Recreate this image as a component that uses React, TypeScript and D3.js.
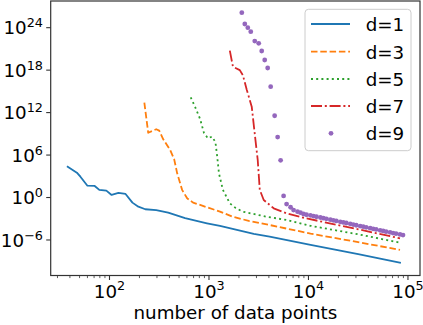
import React from "react";
import * as d3 from "d3";

const X_D1 = [38, 47, 51, 60, 71, 79, 93, 105, 123, 145, 170, 195, 229, 295, 389, 575, 955, 1290, 2820, 4070, 10500, 31600, 83200];
const Y_D1 = [2.3e4, 3.2e3, 8.7e2, 47, 43, 12, 9.3, 2.3, 4.4, 3.2, 0.19, 0.051, 0.022, 0.017, 7.2e-3, 1.2e-3, 2.3e-4, 9.5e-5, 7.1e-6, 3.0e-6, 2.0e-7, 1.0e-8, 6.3e-10];

const X_D3 = [224, 245, 295, 316, 347, 407, 447, 479, 537, 603, 692, 955, 1290, 1740, 2510, 4070, 10500, 31600, 83200];
const Y_D3 = [2.5e13, 1.4e9, 4.4e9, 2.8e9, 1.7e8, 5.2e6, 2.5e5, 2.6e3, 12, 0.78, 0.19, 0.042, 0.01, 1.9e-3, 5.0e-4, 1.3e-4, 7.9e-6, 5.0e-7, 3.9e-8];

const X_D5 = [655, 723, 813, 891, 977, 1070, 1160, 1210, 1260, 1380, 1620, 1860, 2190, 3800, 6030, 10500, 31600, 83200];
const Y_D5 = [1.4e14, 6.9e12, 1.3e11, 1.3e9, 2.3e8, 4.0e8, 7.1e7, 5.9e5, 2.6e3, 12, 0.15, 0.032, 0.01, 1.9e-3, 6.8e-4, 1.0e-4, 6.3e-6, 4.2e-7];

const X_D7 = [1620, 1740, 2040, 2190, 2400, 2690, 2880, 3090, 3240, 3550, 4470, 6030, 9550, 31600, 83200];
const Y_D7 = [5.6e20, 3.1e18, 1.0e18, 2.0e17, 1.6e15, 6.9e12, 1.2e9, 2.0e5, 12, 0.45, 0.03, 5.9e-3, 1.1e-3, 3.2e-5, 1.7e-6];

const X_D9 = [2138, 2291, 2455, 2630, 2884, 3162, 3388, 3631, 3890, 4169, 4571, 4898, 5248, 5623, 6026, 6607, 7079, 7762, 8318, 8913, 9550, 10470, 11220, 12020, 13180, 14130, 15140, 16600, 17780, 19050, 20890, 22390, 23990, 26300, 28180, 30200, 33110, 35480, 38020, 41690, 44670, 47860, 52480, 56230, 60260, 66070, 70790, 75860, 83180, 89130];
const Y_D9 = [1.3e26, 3.3e24, 1.0e24, 2.7e23, 1.3e22, 6.2e21, 5.1e20, 2.7e19, 2.0e18, 4.6e15, 3.6e11, 3.5e8, 1.8e5, 1.7, 0.12, 0.042, 0.017, 0.01, 7.2e-3, 4.7e-3, 3.7e-3, 3.0e-3, 2.4e-3, 1.9e-3, 1.5e-3, 1.2e-3, 9.8e-4, 7.4e-4, 6.0e-4, 4.9e-4, 3.7e-4, 3.0e-4, 2.5e-4, 1.9e-4, 1.5e-4, 1.2e-4, 9.3e-5, 7.6e-5, 6.2e-5, 4.7e-5, 3.8e-5, 3.1e-5, 2.3e-5, 1.9e-5, 1.5e-5, 1.2e-5, 9.5e-6, 7.8e-6, 6.0e-6, 5.0e-6];

const X_MAJOR = [1e2, 1e3, 1e4, 1e5];
const X_MAJOR_EXP = ["2", "3", "4", "5"];
const Y_MAJOR = [1e-6, 1e0, 1e6, 1e12, 1e18, 1e24];
const Y_MAJOR_EXP = ["\u22126", "0", "6", "12", "18", "24"];
const LEGEND = ["d=1", "d=3", "d=5", "d=7", "d=9"];
const X_LABEL = "number of data points";

const COLORS = ["#1f77b4", "#ff7f0e", "#2ca02c", "#d62728", "#9467bd"];
const DASHES = [undefined, "6.5 2.8", "2 3.2", "11 2.8 2 2.8", undefined];

const L = 50.7, R = 420, T = 1, B = 275.5;
const FONT = "DejaVu Sans, sans-serif";
const FS = 18.3, SFS = 12.8;

export default function App() {
  const x = d3.scaleLog().domain([Math.pow(10, 1.409), Math.pow(10, 5.121)]).range([L, R]);
  const y = d3.scaleLog().domain([Math.pow(10, -11.02), Math.pow(10, 27.77)]).range([B, T]);
  const line = d3.line<[number, number]>().x(d => x(d[0])).y(d => y(d[1]));
  const series = [
    [X_D1, Y_D1], [X_D3, Y_D3], [X_D5, Y_D5], [X_D7, Y_D7],
  ];
  const minor: number[] = [];
  for (let k = 1; k <= 4; k++) for (let m = 2; m <= 9; m++) {
    const v = m * Math.pow(10, k);
    const px = x(v);
    if (px >= L && px <= R) minor.push(v);
  }
  const legY = [24, 51.7, 79, 106, 133.3];
  return (
    <svg width={423} height={325} style={{ position: "absolute", left: 0, top: 0 }} fontFamily={FONT}>
      <rect x={0} y={0} width={423} height={325} fill="#fff" />
      <defs>
        <clipPath id="clip"><rect x={L} y={T} width={R - L} height={B - T} /></clipPath>
      </defs>
      <g clipPath="url(#clip)">
        {series.map(([xs, ys], i) => (
          <path key={i} d={line(xs.map((v, j) => [v, ys[j]] as [number, number])) || ""}
            fill="none" stroke={COLORS[i]} strokeWidth={1.8} strokeDasharray={DASHES[i]}
            strokeLinejoin="round" strokeLinecap={i === 0 ? "square" : "butt"} />
        ))}
        {X_D9.map((v, j) => (
          <circle key={j} cx={x(v)} cy={y(Y_D9[j])} r={2.4} fill={COLORS[4]} />
        ))}
      </g>
      <rect x={L} y={T} width={R - L} height={B - T} fill="none" stroke="#333" strokeWidth={1.2} />
      {X_MAJOR.map((v, i) => (
        <g key={i}>
          <line x1={x(v)} x2={x(v)} y1={B} y2={B + 4.5} stroke="#333" strokeWidth={1.1} />
          <text x={x(v)} y={297.6} textAnchor="middle" fontSize={FS} fill="#000">
            <tspan>10</tspan><tspan dy={-7.2} fontSize={SFS}>{X_MAJOR_EXP[i]}</tspan>
          </text>
        </g>
      ))}
      {minor.map((v, i) => (
        <line key={i} x1={x(v)} x2={x(v)} y1={B} y2={B + 2.6} stroke="#333" strokeWidth={0.8} />
      ))}
      {Y_MAJOR.map((v, i) => (
        <g key={i}>
          <line x1={L} x2={L - 4.5} y1={y(v)} y2={y(v)} stroke="#333" strokeWidth={1.1} />
          <text x={43} y={y(v) + 6.8} textAnchor="end" fontSize={FS} fill="#000">
            <tspan>10</tspan><tspan dy={-7} fontSize={SFS}>{Y_MAJOR_EXP[i]}</tspan>
          </text>
        </g>
      ))}
      <text x={(L + R) / 2} y={319} textAnchor="middle" fontSize={FS} fill="#000">{X_LABEL}</text>
      <rect x={305} y={9.3} width={106} height={141.4} rx={3.5} fill="#fff" fillOpacity={0.8} stroke="#cccccc" strokeWidth={1} />
      {LEGEND.map((t, i) => (
        <g key={i}>
          {i < 4 ? (
            <line x1={311} x2={350} y1={legY[i]} y2={legY[i]} stroke={COLORS[i]} strokeWidth={1.8} strokeDasharray={DASHES[i]} />
          ) : (
            <circle cx={331} cy={legY[i]} r={2.4} fill={COLORS[4]} />
          )}
          <text x={365.7} y={legY[i] + 7} fontSize={FS} fill="#000">{t}</text>
        </g>
      ))}
    </svg>
  );
}
